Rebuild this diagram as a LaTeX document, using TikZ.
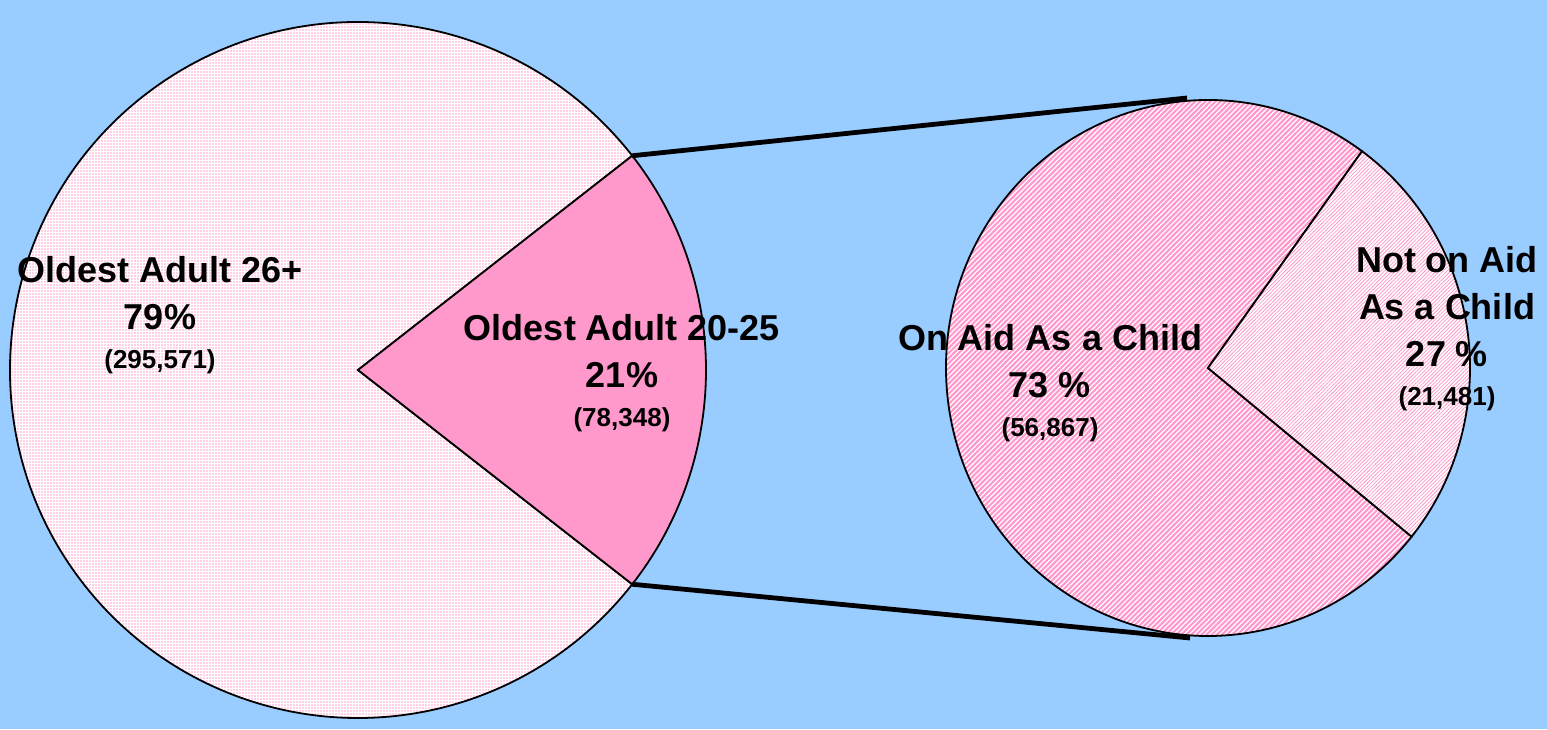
\documentclass[tikz,border=0pt]{standalone}
\usepackage{fontspec}
\setmainfont{Liberation Sans}
\definecolor{skyblue}{RGB}{153, 204, 255}
\definecolor{rosepink}{RGB}{255, 153, 204}
\definecolor{dotpink}{RGB}{255, 160, 205}
\usepackage{tikz}
\usetikzlibrary{patterns.meta, positioning, calc}

\begin{document}
\begin{tikzpicture}[x=0.5pt, y=0.5pt,
    slice/.style={draw=black, line width=0.9pt},
    pielabel/.style={align=center, font=\fontsize{18}{23.5}\selectfont\bfseries, inner sep=0pt},
    zoomline/.style={draw=black, line width=2.4pt}]
  \newcommand{\smallnum}[1]{{\fontsize{13}{15}\selectfont #1}}

  % Background
  \fill[skyblue] (0,0) rectangle (1547,729);
  \useasboundingbox (0,0) rectangle (1547,729);

  % Pie centres and zoom points
  \coordinate (bigc) at (358,359);
  \coordinate (smallc) at (1208,361);
  \coordinate (wedgetop) at ($(bigc)+(38:348)$);
  \coordinate (wedgebot) at ($(bigc)+(-38:348)$);
  \coordinate (zoomtop) at (1187,631);
  \coordinate (zoombot) at (1190,91);

  % Left pie
  \path[slice, preaction={fill=white}, pattern={Dots[radius=0.45pt, distance=1.5pt]}, pattern color=dotpink]
    (bigc) -- (wedgetop) arc[start angle=38, end angle=322, radius=348] -- cycle;
  \path[slice, fill=rosepink]
    (bigc) -- (wedgebot) arc[start angle=-38, end angle=38, radius=348] -- cycle;

  % Right pie
  \path[slice, preaction={fill=rosepink}, pattern={Lines[angle=45, distance=1.8pt, line width=0.6pt]}, pattern color=white]
    (smallc) -- ++(54:262 and 268) arc[start angle=54, end angle=321, x radius=262, y radius=268] -- cycle;
  \path[slice, preaction={fill=white}, pattern={Lines[angle=45, distance=1.3pt, line width=0.4pt]}, pattern color=rosepink]
    (smallc) -- ++(-39:262 and 268) arc[start angle=-39, end angle=54, x radius=262, y radius=268] -- cycle;

  % Zoom connectors
  \draw[zoomline] (wedgetop) -- (zoomtop);
  \draw[zoomline] (wedgebot) -- (zoombot);

  % Labels
  \node[pielabel] (old26) at (160,414) {Oldest Adult 26+\\79\%\\[-4pt]\smallnum{(295,571)}};
  \node[pielabel] (old20) at (622,356) {Oldest Adult 20-25\\21\%\\[-4pt]\smallnum{(78,348)}};
  \node[pielabel] (onaid) at (1050,346) {On Aid As a Child\\73 \%\\[-4pt]\smallnum{(56,867)}};
  \node[pielabel] (notaid) at (1447,400) {Not on Aid\\As a Child\\27 \%\\[-4pt]\smallnum{(21,481)}};
\end{tikzpicture}
\end{document}
